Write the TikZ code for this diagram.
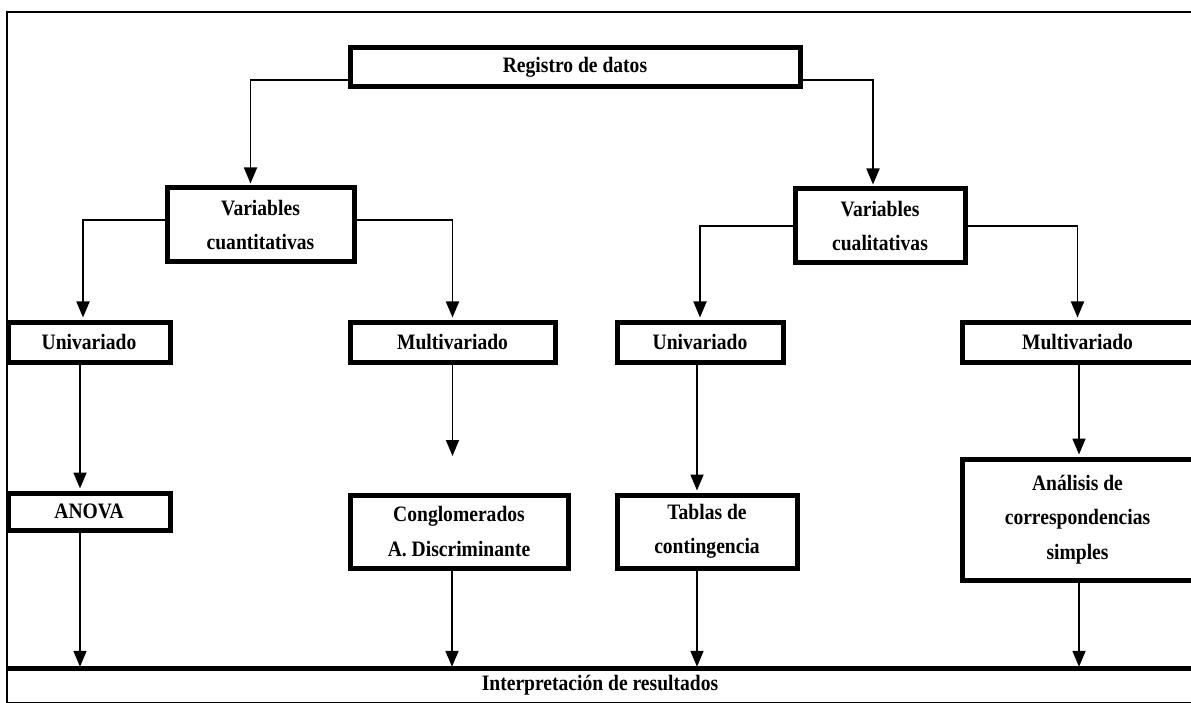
\documentclass[tikz,border=0pt]{standalone}
\usepackage{fontspec}
\setmainfont{Liberation Serif}[FakeStretch=0.89]
\usetikzlibrary{arrows.meta}

\tikzset{
  box/.style={draw, line width=5pt, inner sep=0pt, align=center,
    font=\fontsize{22}{34.5}\selectfont\bfseries},
  link/.style={line width=1.8pt, -{Triangle[width=13pt,length=16pt]}, shorten >=2pt},
}

\begin{document}
\begin{tikzpicture}[x=1pt, y=-1pt]
        \useasboundingbox (0,0) rectangle (1191,703);
        \clip (0,0) rectangle (1191,703);

        % marco
        \draw[line width=2.5pt] (1200,12) -- (7,12) -- (7,710);

        \node[box, minimum width=450, minimum height=39] (reg) at (575,67.5) {Registro de datos};

        \node[box, minimum width=187, minimum height=74] (vquant) at (260.5,225) {Variables\\cuantitativas};
        \node[box, minimum width=170, minimum height=74] (vqual) at (880,226) {Variables\\cualitativas};

        \node[box, minimum width=162, minimum height=40] (uniL) at (89,342) {Univariado};
        \node[box, minimum width=205, minimum height=40] (multL) at (452.5,342) {Multivariado};
        \node[box, minimum width=166, minimum height=40] (uniR) at (700,342) {Univariado};
        \node[box, minimum width=231, minimum height=40] (multR) at (1077.5,342) {Multivariado};

        \node[box, minimum width=162, minimum height=37] (anova) at (89,511.5) {ANOVA};
        \node[box, minimum width=218, minimum height=73] (cong) at (459,531.5) {Conglomerados\\A. Discriminante};
        \node[box, minimum width=180, minimum height=73] (tablas) at (707,531.5) {Tablas de\\contingencia};
        \node[box, minimum width=231, minimum height=121] (anal) at (1077.5,519.5) {Análisis de\\correspondencias\\simples};

        \node[inner sep=0pt, minimum width=1186, minimum height=33,
              font=\fontsize{22}{26}\selectfont\bfseries] (interp) at (600,685.5) {Interpretación de resultados};
        \draw[line width=5pt] (interp.north west) -- (interp.north east);
        \draw[line width=1.2pt] (interp.south west) -- (interp.south east);

        \coordinate (gap) at (452.5,458);

        % primer nivel
        \draw[link] ([yshift=-12.5pt]reg.west) -| ([xshift=-10pt]vquant.north);
        \draw[link] ([yshift=-12.5pt]reg.east) -| ([xshift=-7pt]vqual.north);

        % segundo nivel
        \draw[link] ([yshift=5pt]vquant.west) -| ([xshift=-6pt]uniL.north);
        \draw[link] ([yshift=5pt]vquant.east) -| (multL.north);
        \draw[link] (vqual.west) -| (uniR.north);
        \draw[link] (vqual.east) -| (multR.north);

        % tercer nivel
        \draw[link] ([xshift=-9pt]uniL.south) -- ([xshift=-9pt]anova.north);
        \draw[link] (multL.south) -- (gap);
        \draw[link] ([xshift=-3pt]uniR.south) -- ([xshift=-3pt]uniR.south |- tablas.north);
        \draw[link] ([xshift=1.5pt]multR.south) -- ([xshift=1.5pt]anal.north);

        % resultados
        \draw[link] ([xshift=-9pt]anova.south) -- ([xshift=-9pt]anova.south |- interp.north);
        \draw[link] ([xshift=-7pt]cong.south) -- ([xshift=-7pt]cong.south |- interp.north);
        \draw[link] ([xshift=-10pt]tablas.south) -- ([xshift=-10pt]tablas.south |- interp.north);
        \draw[link] ([xshift=1.5pt]anal.south) -- ([xshift=1.5pt]anal.south |- interp.north);
    \end{tikzpicture}
\end{document}
